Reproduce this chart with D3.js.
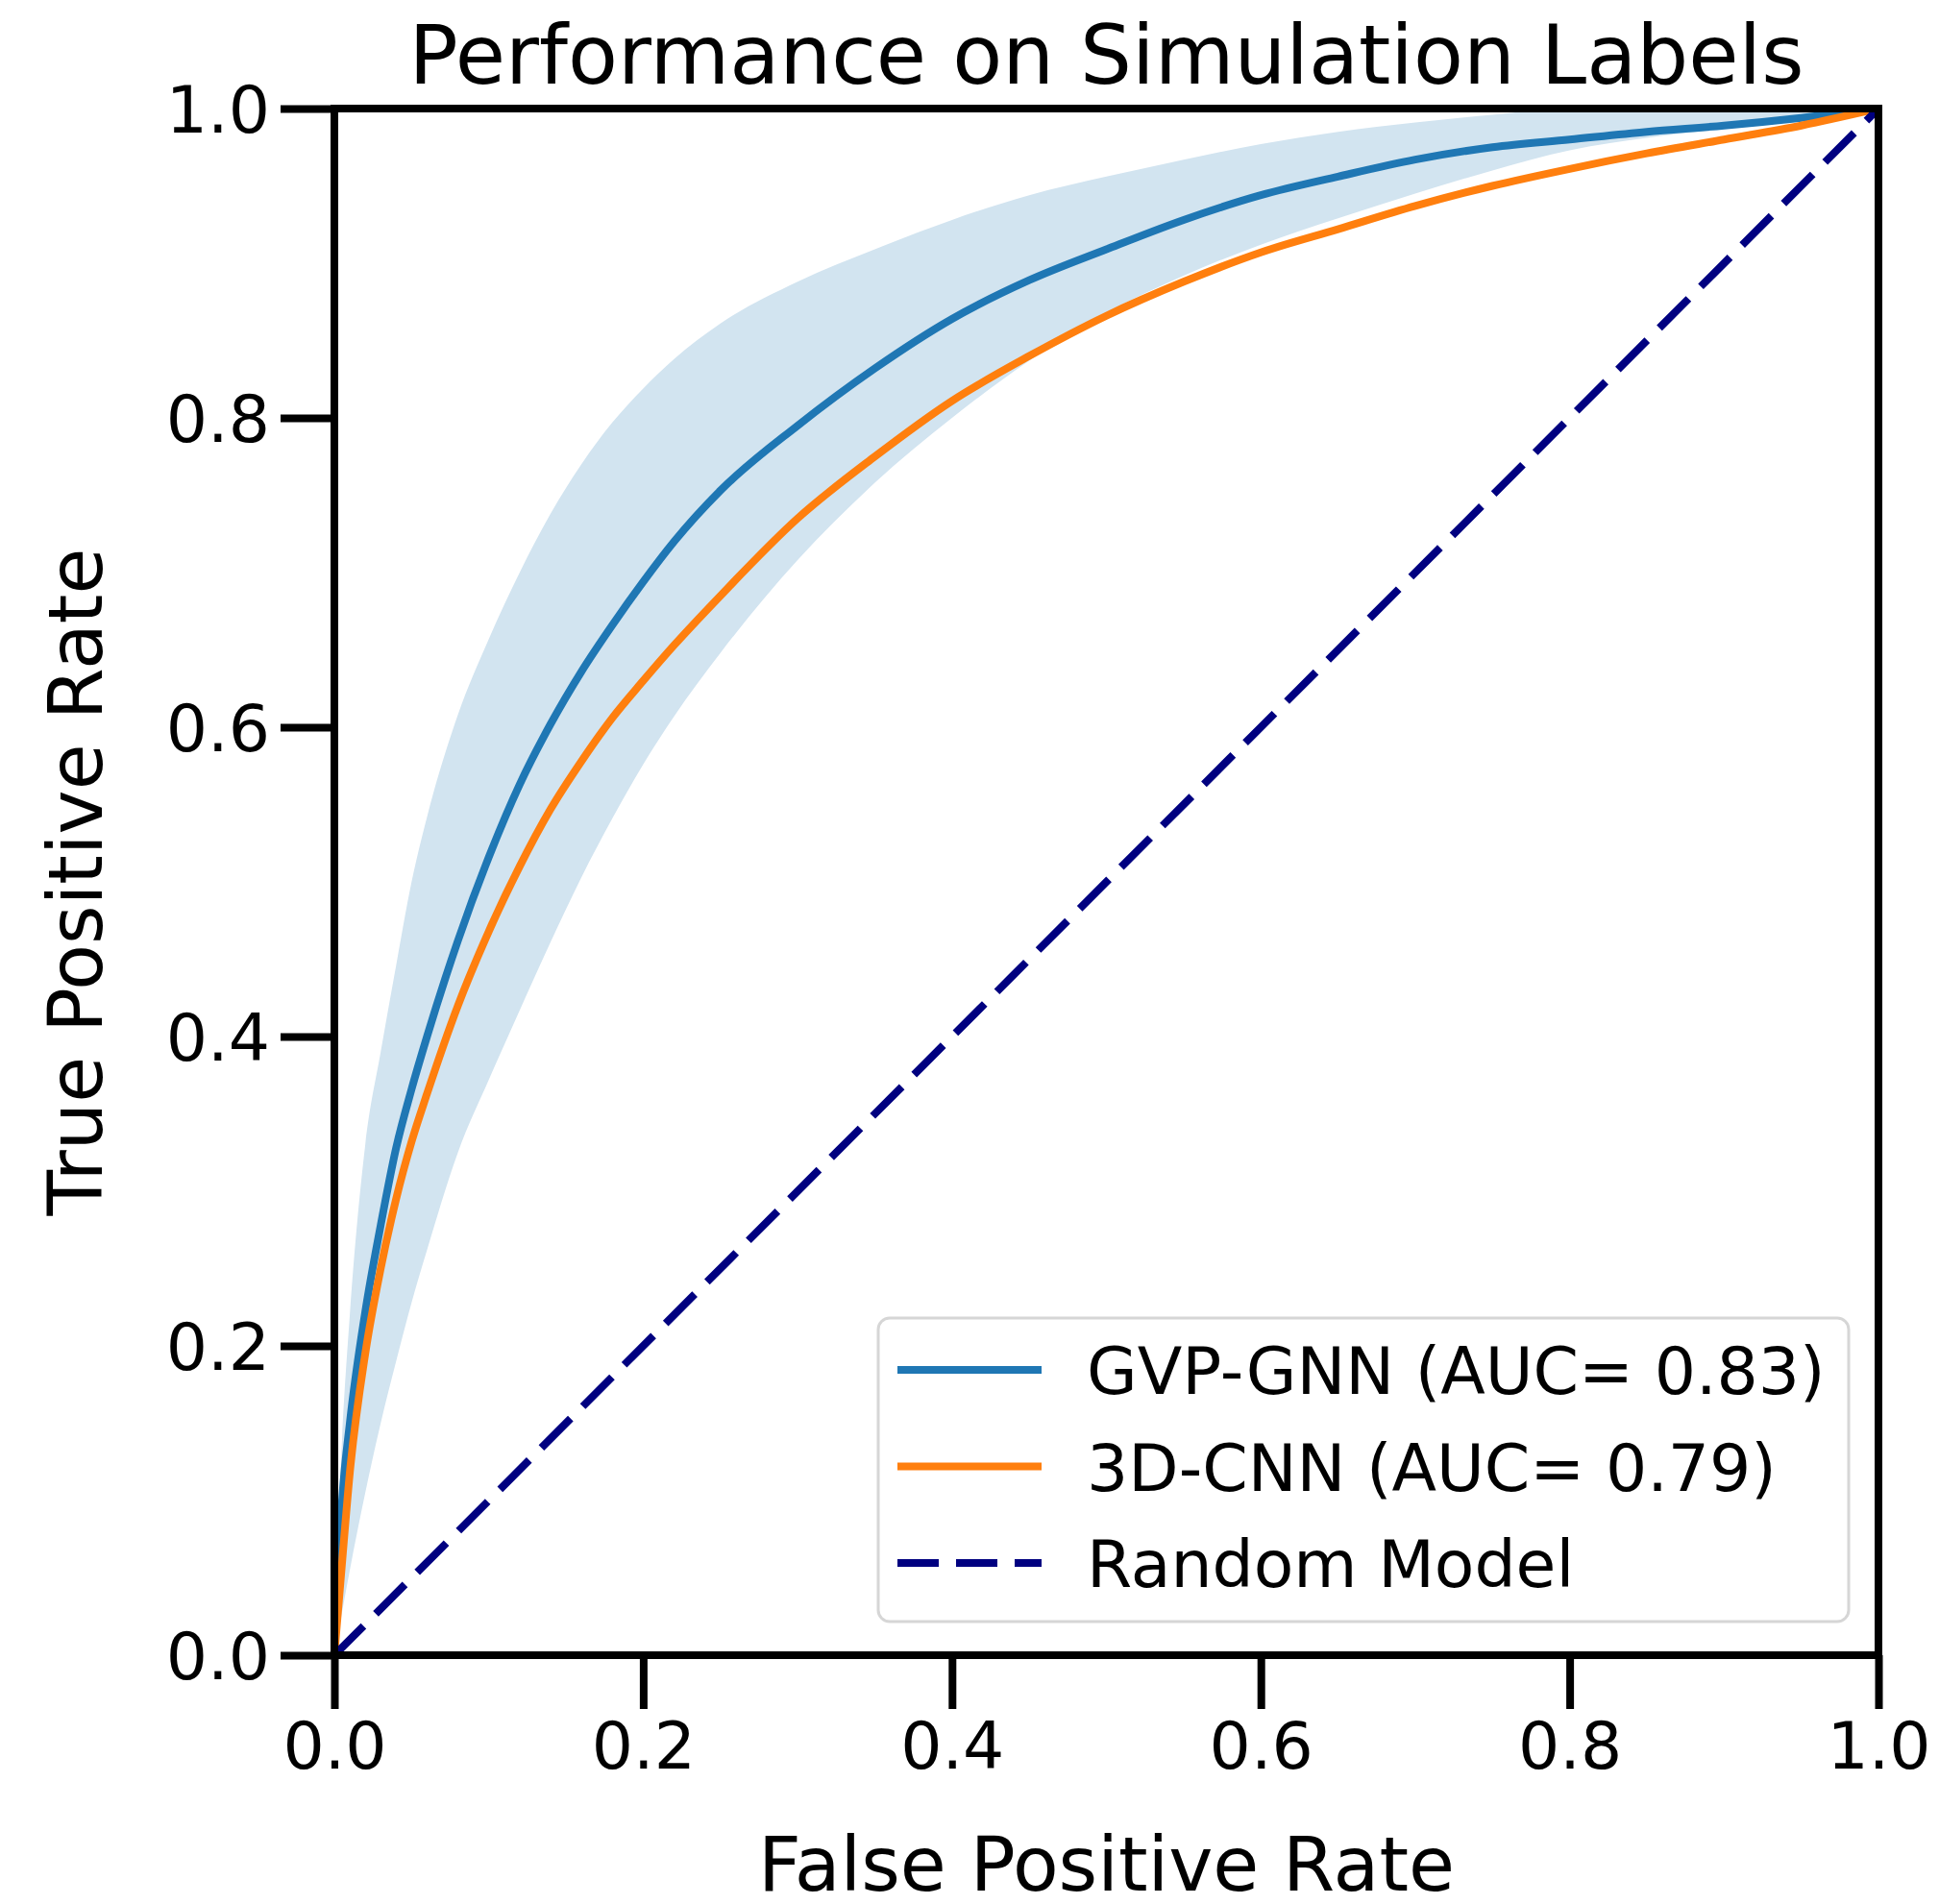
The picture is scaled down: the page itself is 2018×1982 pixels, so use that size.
<!DOCTYPE html>
<html lang="en">
  <head>
    <meta charset="UTF-8" />
    <script src="https://d3js.org/d3.v7.min.js"></script>
    <title>Performance on Simulation Labels</title>
    <style>
      body { margin: 0; background: #fff; }
      svg { display: block; font-family: "DejaVu Sans", sans-serif; }
    </style>
  </head>
  <body>
    <div id="viz"></div>
    <script>
      // false positive rate grid shared by all curves
      const fpr = [0, 0.005, 0.01, 0.02, 0.03, 0.04, 0.05, 0.06, 0.08, 0.10, 0.12, 0.14, 0.16, 0.18, 0.20, 0.22,
        0.25, 0.30, 0.35, 0.40, 0.45, 0.50, 0.55, 0.60, 0.65, 0.70, 0.75, 0.80, 0.85, 0.90, 0.95, 1.0];

      // GVP-GNN mean TPR and the +/- std band
      const gvpTpr = [0, 0.10, 0.15, 0.222, 0.278, 0.328, 0.366, 0.40, 0.462, 0.516, 0.563, 0.602, 0.636, 0.666, 0.694, 0.72,
        0.753, 0.795, 0.832, 0.864, 0.889, 0.909, 0.928, 0.944, 0.956, 0.967, 0.975, 0.980, 0.985, 0.989, 0.994, 1.0];
      const gvpUpper = [0.02, 0.14, 0.22, 0.33, 0.39, 0.446, 0.50, 0.542, 0.608, 0.657, 0.70, 0.738, 0.77, 0.797, 0.819, 0.838,
        0.861, 0.888, 0.909, 0.928, 0.944, 0.956, 0.967, 0.977, 0.985, 0.991, 0.996, 1.0, 1.0, 1.0, 1.0, 1.0];
      const gvpLower = [0, 0.028, 0.055, 0.105, 0.15, 0.19, 0.228, 0.262, 0.325, 0.372, 0.417, 0.461, 0.503, 0.541, 0.576, 0.607,
        0.648, 0.708, 0.758, 0.80, 0.837, 0.868, 0.892, 0.912, 0.929, 0.945, 0.96, 0.973, 0.981, 0.987, 0.993, 1.0];

      // 3D-CNN mean TPR
      const cnnTpr = [0, 0.06, 0.118, 0.195, 0.25, 0.295, 0.332, 0.363, 0.42, 0.468, 0.51, 0.547, 0.578, 0.606, 0.63, 0.653,
        0.685, 0.735, 0.775, 0.811, 0.84, 0.866, 0.888, 0.907, 0.922, 0.937, 0.95, 0.961, 0.971, 0.98, 0.989, 1.0];

      const tickValues = [0, 0.2, 0.4, 0.6, 0.8, 1.0];
      const legendLabels = ["GVP-GNN (AUC= 0.83)", "3D-CNN (AUC= 0.79)", "Random Model"];

      const W = 2018, H = 1982;
      const plot = { left: 348, right: 1955, top: 113, bottom: 1723 };

      const svg = d3.select("#viz").append("svg").attr("width", W).attr("height", H);

      const x = d3.scaleLinear().domain([0, 1]).range([plot.left, plot.right]);
      const y = d3.scaleLinear().domain([0, 1]).range([plot.bottom, plot.top]);

      svg.append("clipPath").attr("id", "clip")
        .append("rect")
        .attr("x", plot.left).attr("y", plot.top)
        .attr("width", plot.right - plot.left).attr("height", plot.bottom - plot.top);

      const g = svg.append("g").attr("clip-path", "url(#clip)");

      const band = fpr.map((f, i) => ({ f, lo: gvpLower[i], hi: gvpUpper[i] }));
      g.append("path")
        .datum(band)
        .attr("fill", "#d2e4f0")
        .attr("d", d3.area().curve(d3.curveMonotoneX).x(d => x(d.f)).y0(d => y(d.lo)).y1(d => y(d.hi)));

      const line = d3.line().curve(d3.curveMonotoneX).x(d => x(d[0])).y(d => y(d[1]));

      g.append("path")
        .datum(fpr.map((f, i) => [f, gvpTpr[i]]))
        .attr("fill", "none").attr("stroke", "#1f77b4").attr("stroke-width", 8)
        .attr("d", line);

      g.append("path")
        .datum(fpr.map((f, i) => [f, cnnTpr[i]]))
        .attr("fill", "none").attr("stroke", "#ff7f0e").attr("stroke-width", 8)
        .attr("d", line);

      g.append("path")
        .datum([[0, 0], [1, 1]])
        .attr("fill", "none").attr("stroke", "#000080").attr("stroke-width", 8)
        .attr("stroke-dasharray", "43 18")
        .attr("d", d3.line().x(d => x(d[0])).y(d => y(d[1])));

      // axes
      const styleAxis = (sel) => {
        sel.select(".domain").remove();
        sel.selectAll(".tick line").attr("stroke", "#000").attr("stroke-width", 8);
        sel.selectAll(".tick text").attr("fill", "#000").style("font-size", "68px")
          .style("font-family", "DejaVu Sans");
      };

      svg.append("g")
        .attr("transform", `translate(0,${plot.bottom})`)
        .call(d3.axisBottom(x).tickValues(tickValues).tickFormat(d3.format(".1f")).tickSize(56).tickPadding(14))
        .call(styleAxis);

      svg.append("g")
        .attr("transform", `translate(${plot.left},0)`)
        .call(d3.axisLeft(y).tickValues(tickValues).tickFormat(d3.format(".1f")).tickSize(56).tickPadding(11))
        .call(styleAxis)
        .selectAll(".tick text").attr("dy", "0.36em");

      // frame
      svg.append("rect")
        .attr("x", plot.left).attr("y", plot.top)
        .attr("width", plot.right - plot.left).attr("height", plot.bottom - plot.top)
        .attr("fill", "none").attr("stroke", "#000").attr("stroke-width", 8);

      // titles
      svg.append("text")
        .attr("x", (plot.left + plot.right) / 2).attr("y", 87)
        .attr("text-anchor", "middle").style("font-size", "85px")
        .text("Performance on Simulation Labels");

      svg.append("text")
        .attr("x", (plot.left + plot.right) / 2).attr("y", 1968)
        .attr("text-anchor", "middle").style("font-size", "78px")
        .text("False Positive Rate");

      svg.append("text")
        .attr("transform", `translate(106,${(plot.top + plot.bottom) / 2}) rotate(-90)`)
        .attr("text-anchor", "middle").style("font-size", "78px")
        .text("True Positive Rate");

      // legend
      const legend = svg.append("g");
      legend.append("rect")
        .attr("x", 914).attr("y", 1372).attr("width", 1010).attr("height", 316)
        .attr("rx", 12)
        .attr("fill", "#fff").attr("fill-opacity", 0.8)
        .attr("stroke", "#d6d6d6").attr("stroke-width", 3);

      const legendStyles = [
        { color: "#1f77b4", dash: null },
        { color: "#ff7f0e", dash: null },
        { color: "#000080", dash: "43 18" }
      ];
      const rowY = d3.scalePoint().domain(legendLabels).range([1426, 1627]);

      const items = legend.selectAll("g.item")
        .data(legendLabels)
        .enter()
        .append("g")
        .attr("class", "item")
        .attr("transform", d => `translate(0,${rowY(d)})`);

      items.append("line")
        .attr("x1", 934).attr("x2", 1084)
        .attr("stroke", (d, i) => legendStyles[i].color)
        .attr("stroke-width", 8)
        .attr("stroke-dasharray", (d, i) => legendStyles[i].dash);

      items.append("text")
        .attr("x", 1131).attr("y", 25)
        .style("font-size", "68px")
        .text(d => d);
    </script>
  </body>
</html>
